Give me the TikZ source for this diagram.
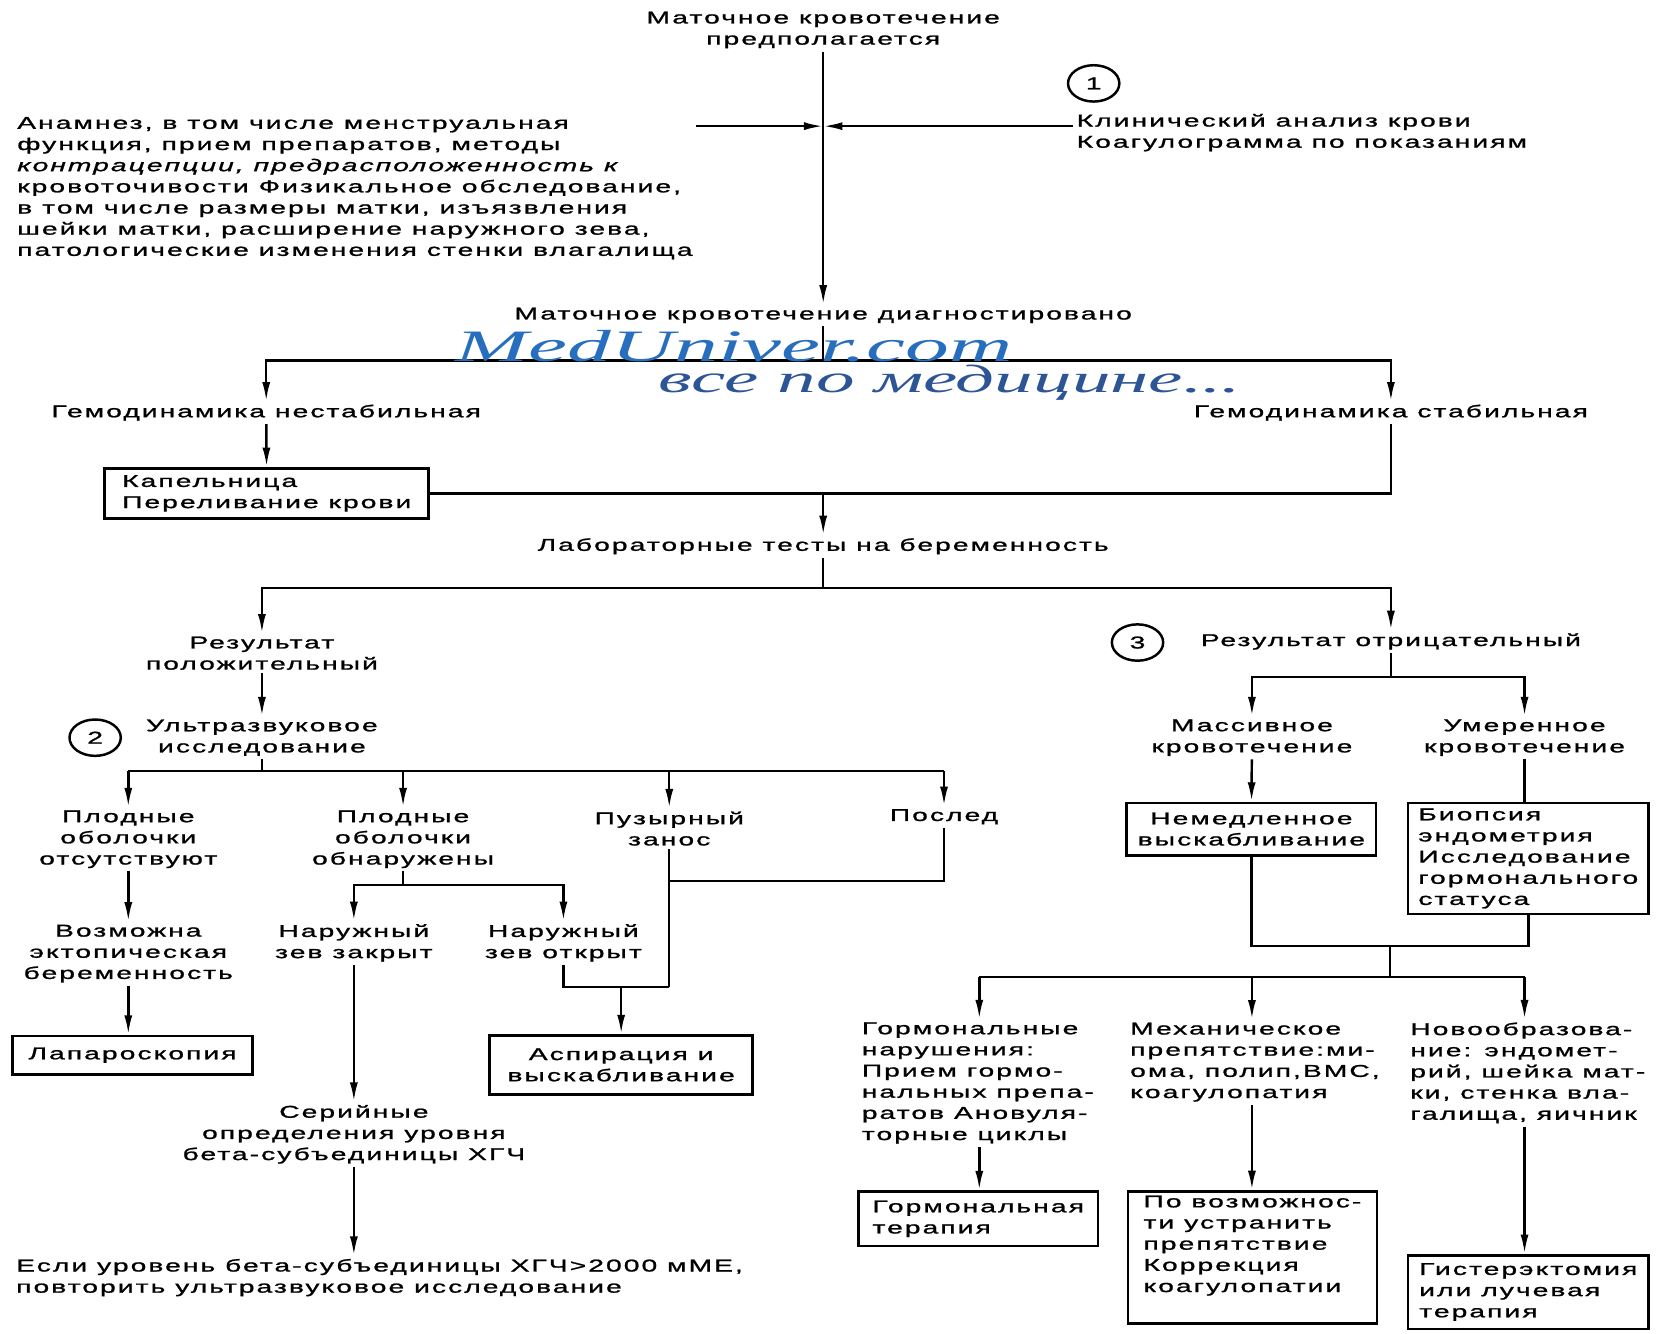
\documentclass[tikz,border=0pt]{standalone}
\usepackage{fontspec}
\setmainfont{Liberation Sans}[FakeStretch=1.65,LetterSpace=12,FakeBold=1.2]
\newfontfamily\wmfont{Liberation Serif}[FakeStretch=1.95]
\usepackage{tikz}
\usetikzlibrary{arrows.meta,shapes.geometric,positioning}
\definecolor{wmblue}{RGB}{40,110,190}
\definecolor{wmdark}{RGB}{45,85,150}
\newcommand\fs{\fontsize{16}{19.8}\selectfont}

\begin{document}
\begin{tikzpicture}[
x=1pt,y=-1pt,
line width=2.3pt,
lbl/.style={
  align=center,
  inner sep=2pt,
  font=\fs
},
lbll/.style={
  align=left,
  inner sep=2pt,
  font=\fs
},
boxx/.style={
  draw,
  align=left,
  inner xsep=5pt,
  inner ysep=4pt,
  line width=2.6pt,
  font=\fs
},
circ/.style={
  draw,
  ellipse,
  inner sep=0pt,
  minimum width=48pt,
  minimum height=34pt,
  font=\fs
},
arr/.style={-{Latex[length=18pt,width=7.5pt]}}
]
\useasboundingbox (0,0) rectangle (1563,1247);

% top part
\node[lbl] (susp) at (770,28) {Маточное кровотечение\\предполагается};
\node[lbl] (diag) at (770,295) {Маточное кровотечение диагностировано};
\draw[arr] (susp) -- (diag);
\coordinate (j1) at (770,118);
\node[lbll,anchor=west] (anam) at (13,176) 
  {Анамнез, в том числе менструальная\\
   функция, прием препаратов, методы\\
   {\itshape контрацепции, предрасположенность к}\\
   кровоточивости Физикальное обследование,\\
   в том числе размеры матки, изъязвления\\
   шейки матки, расширение наружного зева,\\
   патологические изменения стенки влагалища};
\node[lbll,anchor=west] (klin) at (1004,124) 
  {Клинический анализ крови\\Коагулограмма по показаниям};
\node[circ] (n1) at (1023,78) {1};
\draw[arr] (anam.east |- j1) -- (j1);
\draw[arr] (klin.west |- j1) -- (j1);

% hemodynamics
\coordinate (b1) at (770,337);
\node[lbl] (unst) at (249,386) {Гемодинамика нестабильная};
\node[lbl] (stab) at (1301,386) {Гемодинамика стабильная};
\draw (diag) -- (b1);
\draw[arr] (b1) -| (unst);
\draw[arr] (b1) -| (stab);
\node[boxx,minimum width=303pt,minimum height=47pt] (drip) at (249.5,461.5) 
  {Капельница\\Переливание крови};
\draw[arr] (unst) -- (drip);
\draw (drip.east) -| (stab);

% pregnancy tests
\node[lbl] (lab) at (770,511) {Лабораторные тесты на беременность};
\draw[arr] (drip.east -| lab) -- (lab);
\coordinate (b3) at (770,550);
\node[lbl] (pos) at (245,611) {Результат\\положительный};
\node[lbl] (neg) at (1301,600) {Результат отрицательный};
\node[circ] (n3) at (1064,601) {3};
\draw (lab) -- (b3);
\draw[arr] (b3) -| (pos);
\draw[arr] (b3) -| (neg);

% positive branch
\node[lbl] (us) at (245,690) {Ультразвуковое\\исследование};
\node[circ] (n2) at (89,690) {2};
\draw[arr] (pos) -- (us);
\coordinate (b4) at (245,721);
\node[lbl] (abs) at (120,785) {Плодные\\оболочки\\отсутствуют};
\node[lbl] (fnd) at (377,785) {Плодные\\оболочки\\обнаружены};
\node[lbl] (mole) at (626,775) {Пузырный\\занос};
\node[lbl] (plac) at (883,764) {Послед};
\draw (us) -- (b4);
\draw (abs |- b4) -- (plac |- b4);
\foreach \n in {abs,fnd,mole,plac}
  \draw[arr] (\n |- b4) -- (\n);

\node[lbl] (ecto) at (120,892) {Возможна\\эктопическая\\беременность};
\node[boxx,align=center,minimum width=224pt,minimum height=36pt] (lap) at (124,987) {Лапароскопия};
\draw[arr] (abs) -- (ecto);
\draw[arr] (ecto) -- (ecto |- lap.north);

\coordinate (b5) at (377,828);
\node[lbl] (clsd) at (331,882) {Наружный\\зев закрыт};
\node[lbl] (opn) at (527,882) {Наружный\\зев открыт};
\draw (fnd) -- (b5);
\draw[arr] (b5) -| (clsd);
\draw[arr] (b5) -| (opn);

\node[lbl] (ser) at (331,1061) {Серийные\\определения уровня\\бета-субъединицы ХГЧ};
\node[lbll,anchor=west] (esli) at (12,1195) 
  {Если уровень бета-субъединицы ХГЧ>2000 мМЕ,\\повторить ультразвуковое исследование};
\draw[arr] (clsd) -- (ser);
\draw[arr] (ser) -- (ser |- esli.north);

\coordinate (b6) at (626,923);
\coordinate (b7) at (626,824);
\node[boxx,align=center,minimum width=246pt,minimum height=55pt] (asp) at (581,996) 
  {Аспирация и\\выскабливание};
\draw (opn) |- (b6);
\draw (mole) -- (b6);
\draw (plac) |- (b7);
\draw[arr] (asp |- b6) -- (asp);

% negative branch
\coordinate (b8) at (1301,633);
\node[lbl] (mass) at (1171,690) {Массивное\\кровотечение};
\node[lbl] (mod) at (1426,690) {Умеренное\\кровотечение};
\draw (neg) -- (b8);
\draw[arr] (b8) -| (mass);
\draw[arr] (b8) -| (mod);
\node[boxx,align=center,minimum width=233pt,minimum height=49pt] (cur) at (1170.5,775.5) 
  {Немедленное\\выскабливание};
\node[boxx,minimum width=225pt,minimum height=104pt] (bio) at (1429.5,803) 
  {Биопсия\\эндометрия\\Исследование\\гормонального\\статуса};
\draw[arr] (mass) -- (cur);
\draw (mod) -- (mod |- bio.north);
\coordinate (b9) at (1300,885);
\coordinate (b10) at (1300,914);
\draw (cur) |- (bio |- b9) -- (bio);
\draw (b9) -- (b10);

\coordinate (h1) at (916,914);
\coordinate (h2) at (1171,914);
\coordinate (h3) at (1426,914);
\draw (h1) -- (h3);
\node[lbll,anchor=west] (horm) at (803,1013) 
  {Гормональные\\нарушения:\\Прием гормо-\\нальных препа-\\ратов Ановуля-\\торные циклы};
\node[lbll,anchor=west] (mech) at (1054,993.5) 
  {Механическое\\препятствие:ми-\\ома, полип,ВМС,\\коагулопатия};
\node[lbll,anchor=west] (novo) at (1316,1003.5) 
  {Новообразова-\\ние: эндомет-\\рий, шейка мат-\\ки, стенка вла-\\галища, яичник};
\draw[arr] (h1) -- (h1 |- horm.north);
\draw[arr] (h2) -- (h2 |- mech.north);
\draw[arr] (h3) -- (h3 |- novo.north);

\node[boxx,minimum width=224pt,minimum height=51pt] (htx) at (915,1140) 
  {Гормональная\\терапия};
\node[boxx,minimum width=233pt,anchor=north] (obst) at (1171.5,1113) 
  {По возможнос-\\ти устранить\\препятствие\\Коррекция\\коагулопатии\\[6pt]\mbox{}};
\node[boxx,minimum width=225pt,minimum height=69pt] (hyst) at (1429.5,1208.5) 
  {Гистерэктомия\\или лучевая\\терапия};
\draw[arr] (h1 |- horm.south) -- (h1 |- htx.north);
\draw[arr] (h2 |- mech.south) -- (h2 |- obst.north);
\draw[arr] (h3 |- novo.south) -- (h3 |- hyst.north);

% watermark
\node[anchor=base west,inner sep=0pt,text=wmblue,
  font=\wmfont\itshape\fontsize{42}{42}\selectfont] (wm1) at (425,338) {MedUniver.com};
\node[anchor=base west,inner sep=0pt,text=wmdark,
  font=\wmfont\itshape\fontsize{37}{37}\selectfont] (wm2) at (615,367) {все по медицине...};
\end{tikzpicture}
\end{document}
